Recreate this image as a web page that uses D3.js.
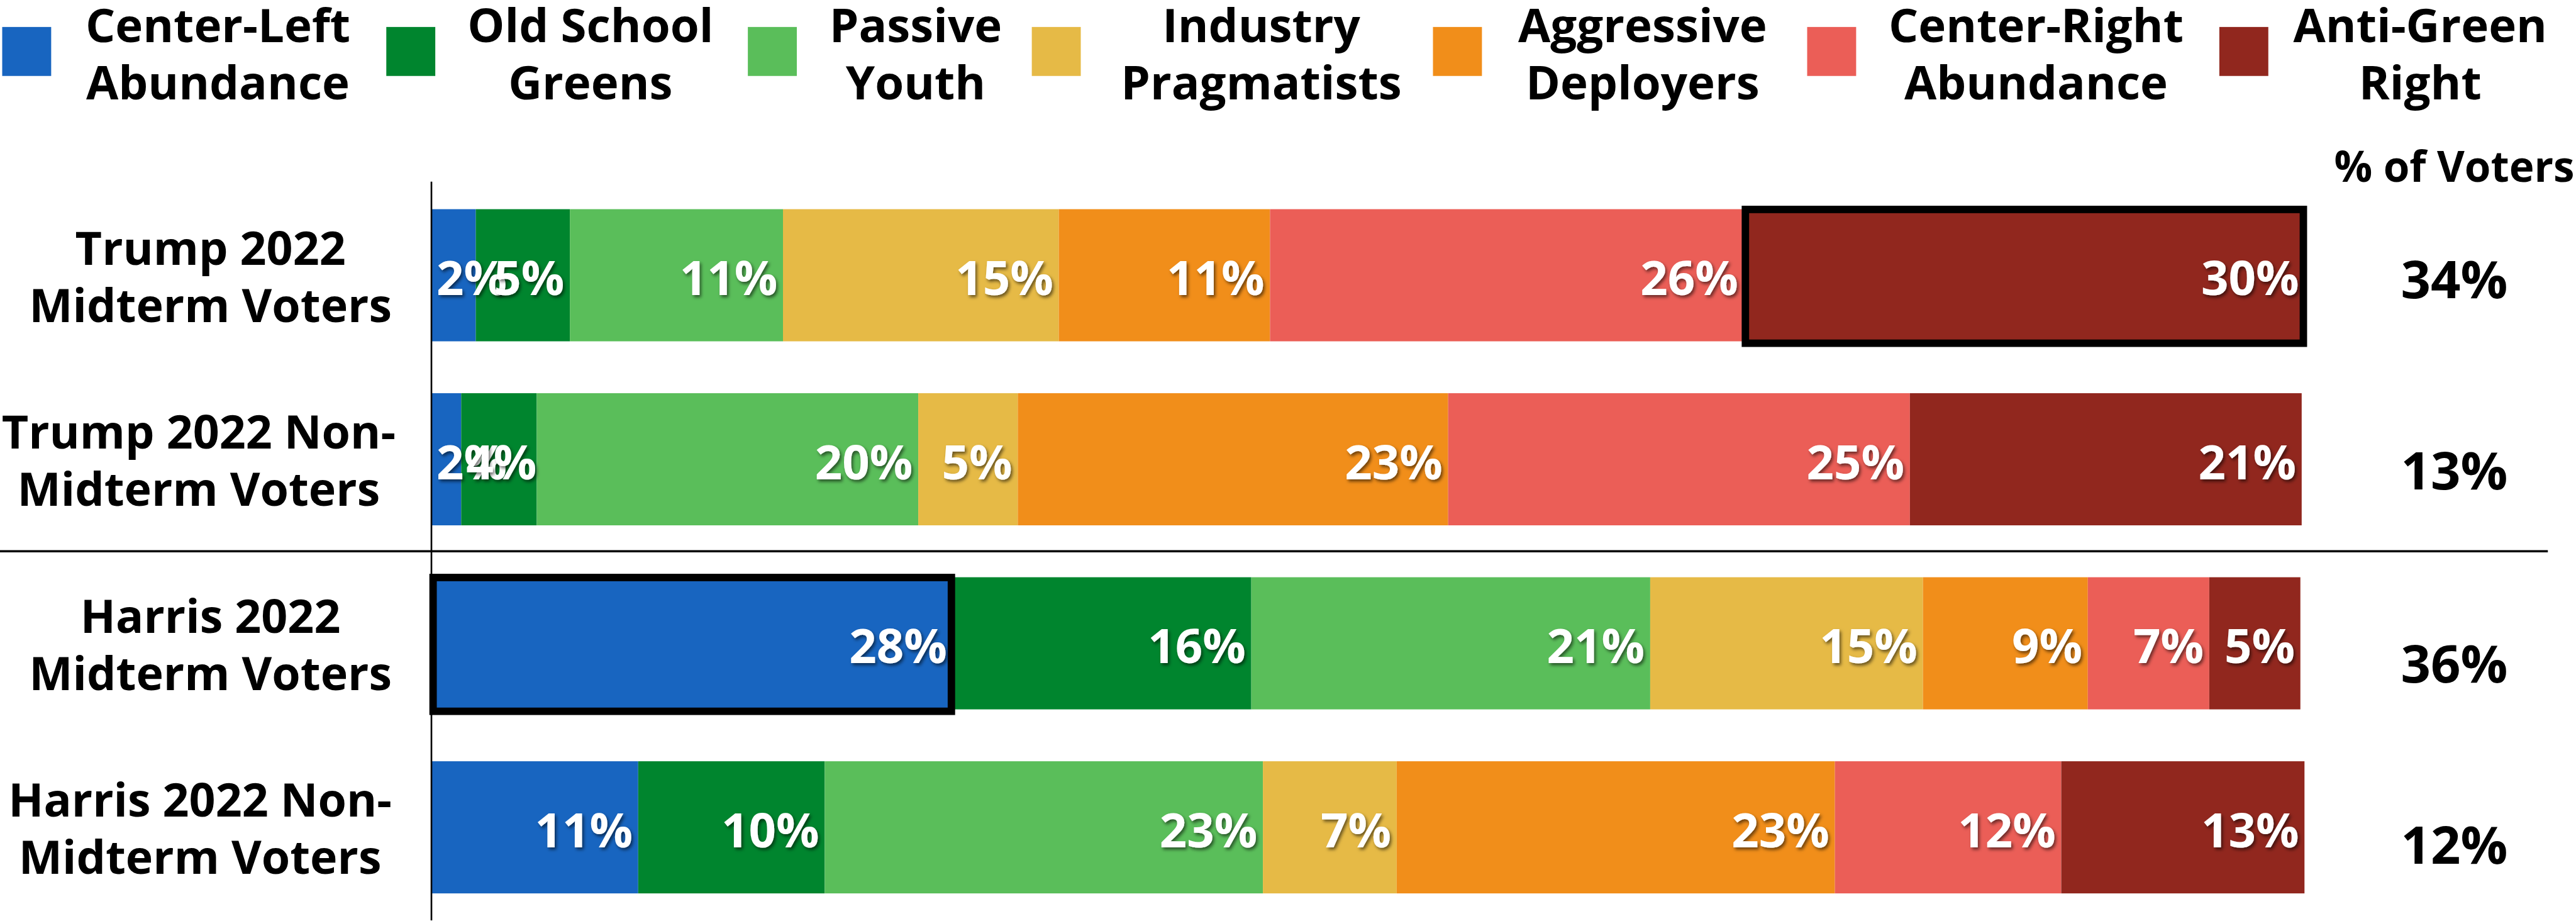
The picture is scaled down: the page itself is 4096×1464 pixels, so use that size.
<!DOCTYPE html>
<html>
<head>
<meta charset="utf-8">
<script src="https://cdn.jsdelivr.net/npm/d3@7"></script>
<style>
  html, body { margin: 0; padding: 0; background: #fff; }
  svg { display: block; }
  text { font-family: "Open Sans", "Noto Sans", "DejaVu Sans", sans-serif; font-weight: 700; }
</style>
</head>
<body>
<svg id="chart" width="4096" height="1464"></svg>
<script>
// ---------------- DATA ----------------
const segments = [
  "Center-Left\nAbundance",
  "Old School\nGreens",
  "Passive\nYouth",
  "Industry\nPragmatists",
  "Aggressive\nDeployers",
  "Center-Right\nAbundance",
  "Anti-Green\nRight"
];
const segmentColors = ["#1865c0", "#00852e", "#5abe5a", "#e6ba46", "#f18e1a", "#eb5e57", "#91271e"];

const categories = [
  "Trump 2022\nMidterm Voters",
  "Trump 2022 Non-\nMidterm Voters",
  "Harris 2022\nMidterm Voters",
  "Harris 2022 Non-\nMidterm Voters"
];

// segment shares (%) per group
const trumpMidterm     = [2.37, 5.03, 11.39, 14.74, 11.29, 25.32, 29.97];
const trumpNonMidterm  = [1.59, 4.04, 20.39, 5.32, 23.00, 24.68, 20.94];
const harrisMidterm    = [27.85, 15.97, 21.32, 14.58, 8.81, 6.49, 4.87];
const harrisNonMidterm = [11.05, 9.97, 23.42, 7.15, 23.42, 12.10, 13.00];

// printed labels on the bars
const trumpMidtermLabels     = [2, 5, 11, 15, 11, 26, 30];
const trumpNonMidtermLabels  = [2, 4, 20, 5, 23, 25, 21];
const harrisMidtermLabels    = [28, 16, 21, 15, 9, 7, 5];
const harrisNonMidtermLabels = [11, 10, 23, 7, 23, 12, 13];

// share of all voters
const shareOfVoters = [34, 13, 36, 12];
const shareHeader = "% of Voters";

// highlighted (boxed) segments: [group index, segment index]
const highlighted = [[0, 6], [2, 0]];

// ---------------- LAYOUT (reference px, scaled by 0.875) ----------------
const S = 0.875;
const svg = d3.select("#chart");
const root = svg.append("g").attr("transform", `scale(${S})`);

const defs = svg.append("defs");
const f = defs.append("filter").attr("id", "shadow")
  .attr("x", "-20%").attr("y", "-30%").attr("width", "150%").attr("height", "170%");
f.append("feDropShadow").attr("dx", 3).attr("dy", 4).attr("stdDeviation", 3)
  .attr("flood-color", "#000").attr("flood-opacity", 0.55);

const groupValues = [trumpMidterm, trumpNonMidterm, harrisMidterm, harrisNonMidterm];
const groupLabels = [trumpMidtermLabels, trumpNonMidtermLabels, harrisMidtermLabels, harrisNonMidtermLabels];

const keys = segments.map((d, i) => "s" + i);
const table = categories.map((c, gi) => {
  const row = { cat: c };
  keys.forEach((k, si) => row[k] = groupValues[gi][si]);
  return row;
});
const stacked = d3.stack().keys(keys)(table);

const x = d3.scaleLinear().domain([0, 100]).range([784, 4184]);
const y = d3.scaleBand().domain(categories).range([380, 1623]).paddingInner(0.282).paddingOuter(0);
const color = d3.scaleOrdinal().domain(keys).range(segmentColors);

// ---- Legend ----
const legendSwatchX = [4, 702, 1359, 1875, 2604, 3284, 4033];
const legendTextX = [396, 1073, 1664, 2292, 2985, 3700, 4398];
const legend = root.append("g");
segments.forEach((name, i) => {
  legend.append("rect")
    .attr("x", legendSwatchX[i]).attr("y", 49)
    .attr("width", 89).attr("height", 89)
    .attr("fill", segmentColors[i]);
  const t = legend.append("text")
    .attr("text-anchor", "middle")
    .attr("font-size", 85)
    .attr("fill", "#000");
  name.split("\n").forEach((line, li) => {
    t.append("tspan").attr("x", legendTextX[i]).attr("y", 77 + li * 104).text(line);
  });
});

// ---- Bars ----
const barsG = root.append("g");
stacked.forEach((layer, si) => {
  barsG.append("g").attr("fill", color(layer.key))
    .selectAll("rect").data(layer).join("rect")
    .attr("x", d => x(d[0]))
    .attr("y", d => y(d.data.cat))
    .attr("width", d => x(d[1]) - x(d[0]))
    .attr("height", y.bandwidth());
});

// ---- Highlight boxes ----
highlighted.forEach(([gi, si]) => {
  const d = stacked[si][gi];
  const x0 = x(d[0]), x1 = x(d[1]);
  const yt = y(d.data.cat);
  root.append("rect")
    .attr("x", x0 + 3).attr("y", yt + 0.5)
    .attr("width", x1 - x0 - 5).attr("height", y.bandwidth() + 3)
    .attr("fill", "none").attr("stroke", "#000").attr("stroke-width", 13.5);
});

// ---- Bar value labels ----
const labG = root.append("g");
stacked.forEach((layer, si) => {
  layer.forEach((d, gi) => {
    const x0 = x(d[0]), x1 = x(d[1]);
    const t = labG.append("text")
      .attr("font-size", 87)
      .attr("fill", "#fff")
      .attr("filter", "url(#shadow)")
      .attr("y", y(d.data.cat) + y.bandwidth() / 2 + 36)
      .text(groupLabels[gi][si] + "%");
    const w = t.node().getComputedTextLength();
    const start = Math.max(x1 - 10 - w, x0 + 9);
    t.attr("x", start);
  });
});

// ---- Axis line (vertical) ----
root.append("line")
  .attr("x1", x(0)).attr("x2", x(0))
  .attr("y1", 330).attr("y2", 1672)
  .attr("stroke", "#000").attr("stroke-width", 3);

// ---- Separator between Trump and Harris ----
const sepY = (y(categories[1]) + y.bandwidth() + y(categories[2])) / 2;
root.append("line")
  .attr("x1", 0).attr("x2", 4630)
  .attr("y1", sepY).attr("y2", sepY)
  .attr("stroke", "#000").attr("stroke-width", 4);

// ---- Category labels ----
const catG = root.append("g");
categories.forEach(c => {
  const lines = c.split("\n");
  const t = catG.append("text")
    .attr("text-anchor", "middle")
    .attr("font-size", 84)
    .attr("fill", "#000");
  const cy = y(c) + y.bandwidth() / 2;
  const spans = lines.map((line, li) =>
    t.append("tspan").attr("y", cy - 19 + li * 104).text(line));
  const maxW = d3.max(spans, s => s.node().getComputedTextLength());
  const cx = Math.max(712 - maxW / 2, maxW / 2 + 3);
  spans.forEach(s => s.attr("x", cx));
});

// ---- Right column: share of voters ----
const shareCX = 4460;
root.append("text")
  .attr("x", shareCX).attr("y", 330)
  .attr("text-anchor", "middle")
  .attr("font-size", 77)
  .attr("fill", "#000")
  .text(shareHeader);
const shareDy = [42, 55, 71, 66];
categories.forEach((c, i) => {
  root.append("text")
    .attr("x", shareCX)
    .attr("y", y(c) + y.bandwidth() / 2 + shareDy[i])
    .attr("text-anchor", "middle")
    .attr("font-size", 95)
    .attr("fill", "#000")
    .text(shareOfVoters[i] + "%");
});
</script>
</body>
</html>
